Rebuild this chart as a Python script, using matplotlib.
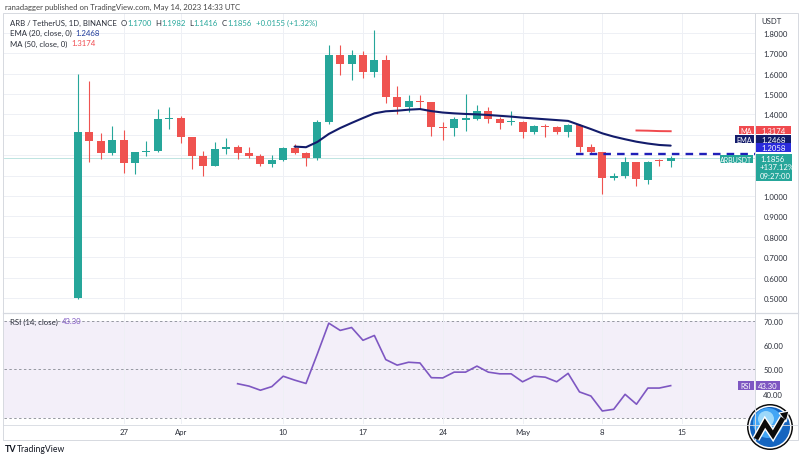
import matplotlib
matplotlib.use('Agg')
import matplotlib.pyplot as plt
import matplotlib.dates as mdates
from matplotlib.patches import Rectangle, Circle, Polygon
import numpy as np
import pandas as pd

plt.rcParams['font.family'] = ['Lato', 'DejaVu Sans']

# ---------------- data ----------------
start_date = '2023-03-23'
opens = [0.500, 1.315, 1.268, 1.211, 1.276, 1.162, 1.214, 1.222, 1.375, 1.383,
         1.287, 1.198, 1.149, 1.230, 1.238, 1.211, 1.195, 1.157, 1.176, 1.235,
         1.211, 1.186, 1.361, 1.691, 1.647, 1.691, 1.606, 1.667, 1.484, 1.435,
         1.467, 1.459, 1.337, 1.333, 1.372, 1.377, 1.415, 1.377, 1.362, 1.365,
         1.312, 1.345, 1.340, 1.312, 1.350, 1.238, 1.214, 1.090, 1.100, 1.165,
         1.080, 1.172, 1.170]
highs = [1.600, 1.565, 1.310, 1.345, 1.324, 1.214, 1.270, 1.426, 1.438, 1.394,
         1.290, 1.222, 1.263, 1.284, 1.250, 1.239, 1.206, 1.200, 1.240, 1.255,
         1.215, 1.370, 1.740, 1.740, 1.716, 1.710, 1.815, 1.690, 1.540, 1.495,
         1.495, 1.462, 1.365, 1.385, 1.500, 1.446, 1.438, 1.385, 1.418, 1.368,
         1.350, 1.355, 1.343, 1.355, 1.355, 1.255, 1.217, 1.113, 1.190, 1.168,
         1.170, 1.181, 1.1982]
lows = [0.495, 1.168, 1.181, 1.201, 1.113, 1.108, 1.196, 1.215, 1.328, 1.260,
        1.132, 1.100, 1.145, 1.206, 1.181, 1.184, 1.149, 1.140, 1.170, 1.205,
        1.149, 1.178, 1.355, 1.593, 1.569, 1.577, 1.582, 1.456, 1.400, 1.410,
        1.426, 1.296, 1.276, 1.292, 1.320, 1.370, 1.360, 1.328, 1.348, 1.283,
        1.305, 1.290, 1.305, 1.290, 1.214, 1.210, 1.010, 1.080, 1.087, 1.050,
        1.059, 1.149, 1.1416]
closes = [1.315, 1.268, 1.211, 1.276, 1.162, 1.214, 1.222, 1.375, 1.383, 1.287,
          1.198, 1.149, 1.230, 1.238, 1.211, 1.195, 1.157, 1.176, 1.235, 1.211,
          1.186, 1.361, 1.691, 1.647, 1.691, 1.606, 1.667, 1.484, 1.435, 1.467,
          1.459, 1.337, 1.333, 1.377, 1.380, 1.415, 1.377, 1.360, 1.368, 1.312,
          1.345, 1.340, 1.312, 1.348, 1.238, 1.217, 1.087, 1.100, 1.165, 1.083,
          1.168, 1.1701, 1.1856]

ema_start = 19
ema20 = [1.242, 1.239, 1.265, 1.304, 1.333, 1.358, 1.382, 1.405, 1.415, 1.418,
         1.423, 1.426, 1.416, 1.409, 1.405, 1.402, 1.400, 1.397, 1.393, 1.389,
         1.384, 1.380, 1.376, 1.372, 1.368, 1.348, 1.328, 1.307, 1.291, 1.278,
         1.266, 1.257, 1.250, 1.2468]
ma_start = 49
ma50 = [1.321, 1.320, 1.318, 1.3174]

rsi_start = 14
rsi = [44.1, 43.1, 41.4, 42.9, 47.2, 45.6, 44.2, 56.5, 69.2, 66.2,
       67.4, 62.1, 64.1, 54.1, 51.8, 53.0, 52.7, 46.6, 46.5, 48.9,
       48.9, 51.4, 48.9, 48.2, 48.2, 44.9, 47.2, 46.8, 44.9, 48.4,
       40.7, 39.0, 32.8, 33.5, 39.7, 35.6, 42.3, 42.3, 43.3]

level_value = 1.2058
level_start = 44

price_ticks = [0.5, 0.6, 0.7, 0.8, 0.9, 1.0, 1.1, 1.2, 1.3, 1.4, 1.5, 1.6, 1.7, 1.8]
price_tick_labels = ['0.5000', '0.6000', '0.7000', '0.8000', '0.9000', '1.0000', '', '', '',
                     '1.4000', '1.5000', '1.6000', '1.7000', '1.8000']
rsi_ticks = [40, 50, 60, 70]
rsi_tick_labels = ['40.00', '50.00', '60.00', '70.00']
x_tick_dates = ['2023-03-27', '2023-04-01', '2023-04-10', '2023-04-17',
                '2023-04-24', '2023-05-01', '2023-05-08', '2023-05-15']
x_tick_labels = ['27', 'Apr', '10', '17', '24', 'May', '8', '15']

header = 'ranadagger published on TradingView.com, May 14, 2023 14:33 UTC'
symbol = 'ARB / TetherUS, 1D, BINANCE'
change_txt = '+0.0155 (+1.32%)'
pct_total = '+137.12%'
countdown = '09:27:00'

# ---------------- colours ----------------
UP, DN = '#26a69a', '#ef5350'
EMA_C = '#131c6b'
MA_C = '#f04a4f'
LVL_C = '#1f1fb8'
LVL_TAG = '#2b2bdc'
RSI_C = '#7e57c2'
GRID = '#eef0f5'
TXT = '#2a2e39'
BORDER = '#d6d9e0'
FS = 5.6

W, H = 800, 460
fig = plt.figure(figsize=(8, 4.6), dpi=100)
fig.patch.set_facecolor('white')

L, R = 4, 755
main_top, main_bot = 14, 312
rsi_top, rsi_bot = 315, 425

ax = fig.add_axes([L / W, 1 - main_bot / H, (R - L) / W, (main_bot - main_top) / H])
axr = fig.add_axes([L / W, 1 - rsi_bot / H, (R - L) / W, (rsi_bot - rsi_top) / H], sharex=ax)

dates = pd.date_range(start_date, periods=len(opens), freq='D')
x = mdates.date2num(dates)
o = np.array(opens); c = np.array(closes); h = np.array(highs); l = np.array(lows)
up = c >= o
cols = np.where(up, UP, DN)

# ---- candles ----
ax.vlines(x, l, h, colors=cols, linewidth=0.8, zorder=3)
body_lo = np.minimum(o, c)
body_h = np.maximum(np.abs(c - o), 0.005)
ax.bar(x, body_h, bottom=body_lo, width=0.7, color=cols, linewidth=0, zorder=4)

ax.plot(x[ema_start:], ema20, color=EMA_C, lw=1.5, zorder=5, solid_capstyle='round')
ax.plot(x[ma_start:], ma50, color=MA_C, lw=1.4, zorder=5)

x0 = x[0]
xl = (x0 - 6.5, x0 + 59.4)
ax.set_xlim(*xl)
ax.set_ylim(0.436, 1.897)

ax.hlines(level_value, x[level_start] - 0.3, xl[1], colors=LVL_C, lw=1.7,
          linestyles=(0, (3.2, 2.6)), zorder=6)
ax.axhline(closes[-1], color=UP, lw=0.6, alpha=0.35, zorder=2)

ax.set_yticks(price_ticks)
ax.set_yticklabels(price_tick_labels)
tick_pos = mdates.date2num(pd.to_datetime(x_tick_dates))
ax.set_xticks(tick_pos)
ax.grid(True, color=GRID, lw=0.7, zorder=0)
ax.yaxis.tick_right()
ax.tick_params(axis='y', length=0, pad=6, labelsize=FS, labelcolor=TXT)
ax.tick_params(axis='x', length=0, labelbottom=False)
for s in ax.spines.values():
    s.set_visible(False)

# ---- RSI ----
axr.axhspan(30, 70, color=RSI_C, alpha=0.09, lw=0, zorder=0)
for lvl in (30, 50, 70):
    axr.axhline(lvl, color='#9598a1', lw=0.7, ls=(0, (2.5, 2.5)), zorder=1)
axr.plot(x[rsi_start:], rsi, color=RSI_C, lw=1.2, zorder=4)
axr.set_ylim(27.4, 73.0)
axr.set_yticks(rsi_ticks)
axr.set_yticklabels(rsi_tick_labels)
axr.set_xticks(tick_pos)
axr.set_xticklabels(x_tick_labels)
axr.grid(True, axis='x', color=GRID, lw=0.7, zorder=0)
axr.yaxis.tick_right()
axr.tick_params(axis='y', length=0, pad=6, labelsize=FS, labelcolor=TXT)
axr.tick_params(axis='x', length=0, pad=3, labelsize=FS, labelcolor=TXT)
for s in axr.spines.values():
    s.set_visible(False)
axr.set_xlim(*xl)

# ---- overlay in pixel coordinates ----
ov = fig.add_axes([0, 0, 1, 1], zorder=10)
ov.set_xlim(0, W); ov.set_ylim(H, 0); ov.axis('off'); ov.patch.set_alpha(0)

# borders
ov.add_patch(Rectangle((2.5, 14), 795, 427, fill=False, ec=BORDER, lw=0.7))
ov.plot([R, R], [14, 441], color=BORDER, lw=0.7)
ov.plot([2.5, 797.5], [313.5, 313.5], color=BORDER, lw=0.9)
ov.plot([2.5, 797.5], [426, 426], color=BORDER, lw=0.6)

fig.canvas.draw()
rend = fig.canvas.get_renderer()


def rich(xp, yp, parts, size):
    for s, col in parts:
        t = ov.text(xp, yp, s, color=col, fontsize=size, va='center', ha='left')
        bb = t.get_window_extent(rend)
        xp += bb.width


ov.text(5, 7, header, fontsize=FS, color='#444', va='center')
rich(10, 23, [(symbol + '  ', TXT), ('O', TXT), ('%.4f' % opens[-1], UP), ('  H', TXT),
              ('%.4f' % highs[-1], UP), ('  L', TXT), ('%.4f' % lows[-1], UP), ('  C', TXT),
              ('%.4f' % closes[-1], UP), ('  ' + change_txt, UP)], FS)
rich(10, 33, [('EMA (20, close, 0)  ', TXT), ('%.4f' % ema20[-1], '#1e3a9a')], FS)
rich(10, 44, [('MA (50, close, 0)  ', TXT), ('%.4f' % ma50[-1], MA_C)], FS)
rich(10, 322, [('RSI (14, close)  ', TXT), ('%.2f' % rsi[-1], RSI_C)], FS)
ov.text(761, 22, 'USDT', fontsize=FS, color=TXT, va='center')


def py(axis, v):
    return H - axis.transData.transform((0, v))[1]


def box(x0_, x1_, yc, hh, fc, text, size=FS, tc='white'):
    ov.add_patch(Rectangle((x0_, yc - hh / 2), x1_ - x0_, hh, fc=fc, ec='none'))
    ov.text((x0_ + x1_) / 2, yc, text, color=tc, fontsize=size, ha='center', va='center')


y_ma = py(ax, ma50[-1]) - 1
box(739, 754, y_ma, 8.5, MA_C, 'MA', 5.2)
box(756, 791, y_ma, 8.5, MA_C, '%.4f' % ma50[-1])
y_ema = py(ax, ema20[-1]) - 6.5
box(735, 754, y_ema, 8.5, EMA_C, 'EMA', 5.2)
box(756, 791, y_ema, 8.5, EMA_C, '%.4f' % ema20[-1])
y_lvl = py(ax, level_value) - 6.5
box(756, 791, y_lvl, 8.5, LVL_TAG, '%.4f' % level_value)
y_last = py(ax, closes[-1])
box(720, 753, y_last + 1, 7.5, UP, 'ARBUSDT', 5.0)
ov.add_patch(Rectangle((756, y_last - 4.5), 36, 27, fc=UP, ec='none'))
for i, s in enumerate(['%.4f' % closes[-1], pct_total, countdown]):
    ov.text(760, y_last + 0.5 + i * 8.3, s, color='white', fontsize=FS, ha='left', va='center')
y_rsi = py(axr, rsi[-1])
box(738, 754, y_rsi, 9, RSI_C, 'RSI', 5.2)
box(756, 780, y_rsi, 9, RSI_C, '%.2f' % rsi[-1])

# footer
ov.text(5, 450, 'TV', fontsize=6.5, color='#131722', fontweight='bold', va='center')
ov.text(17, 450, 'TradingView', fontsize=6.2, color='#131722', va='center')

# round logo bottom right
cx, cy = 770, 428
ov.add_patch(Circle((cx, cy), 23, fc='#0b0b0b', ec='none'))
ov.add_patch(Circle((cx, cy), 21.5, fc='white', ec='none'))
ov.add_patch(Circle((cx, cy), 20, fc='#1565c0', ec='none'))
ov.add_patch(Circle((cx - 2, cy - 4), 15, fc='#42a5f5', ec='none'))
ov.add_patch(Circle((cx - 4, cy - 8), 8, fc='#b3e5fc', ec='none', alpha=0.8))
zig = [(756, 440), (765, 424), (773, 436), (783, 419)]
zx_, zy_ = zip(*zig)
ov.plot(zx_, zy_, color='white', lw=5.5, solid_joinstyle='miter', solid_capstyle='butt')
ov.plot(zx_, zy_, color='#0b0b0b', lw=3.5, solid_joinstyle='miter', solid_capstyle='butt')
ov.add_patch(Polygon([(779, 414), (789, 412), (786, 423)], closed=True, fc='#0b0b0b', ec='white', lw=0.8))

fig.savefig('out.png', dpi=100, facecolor='white')
